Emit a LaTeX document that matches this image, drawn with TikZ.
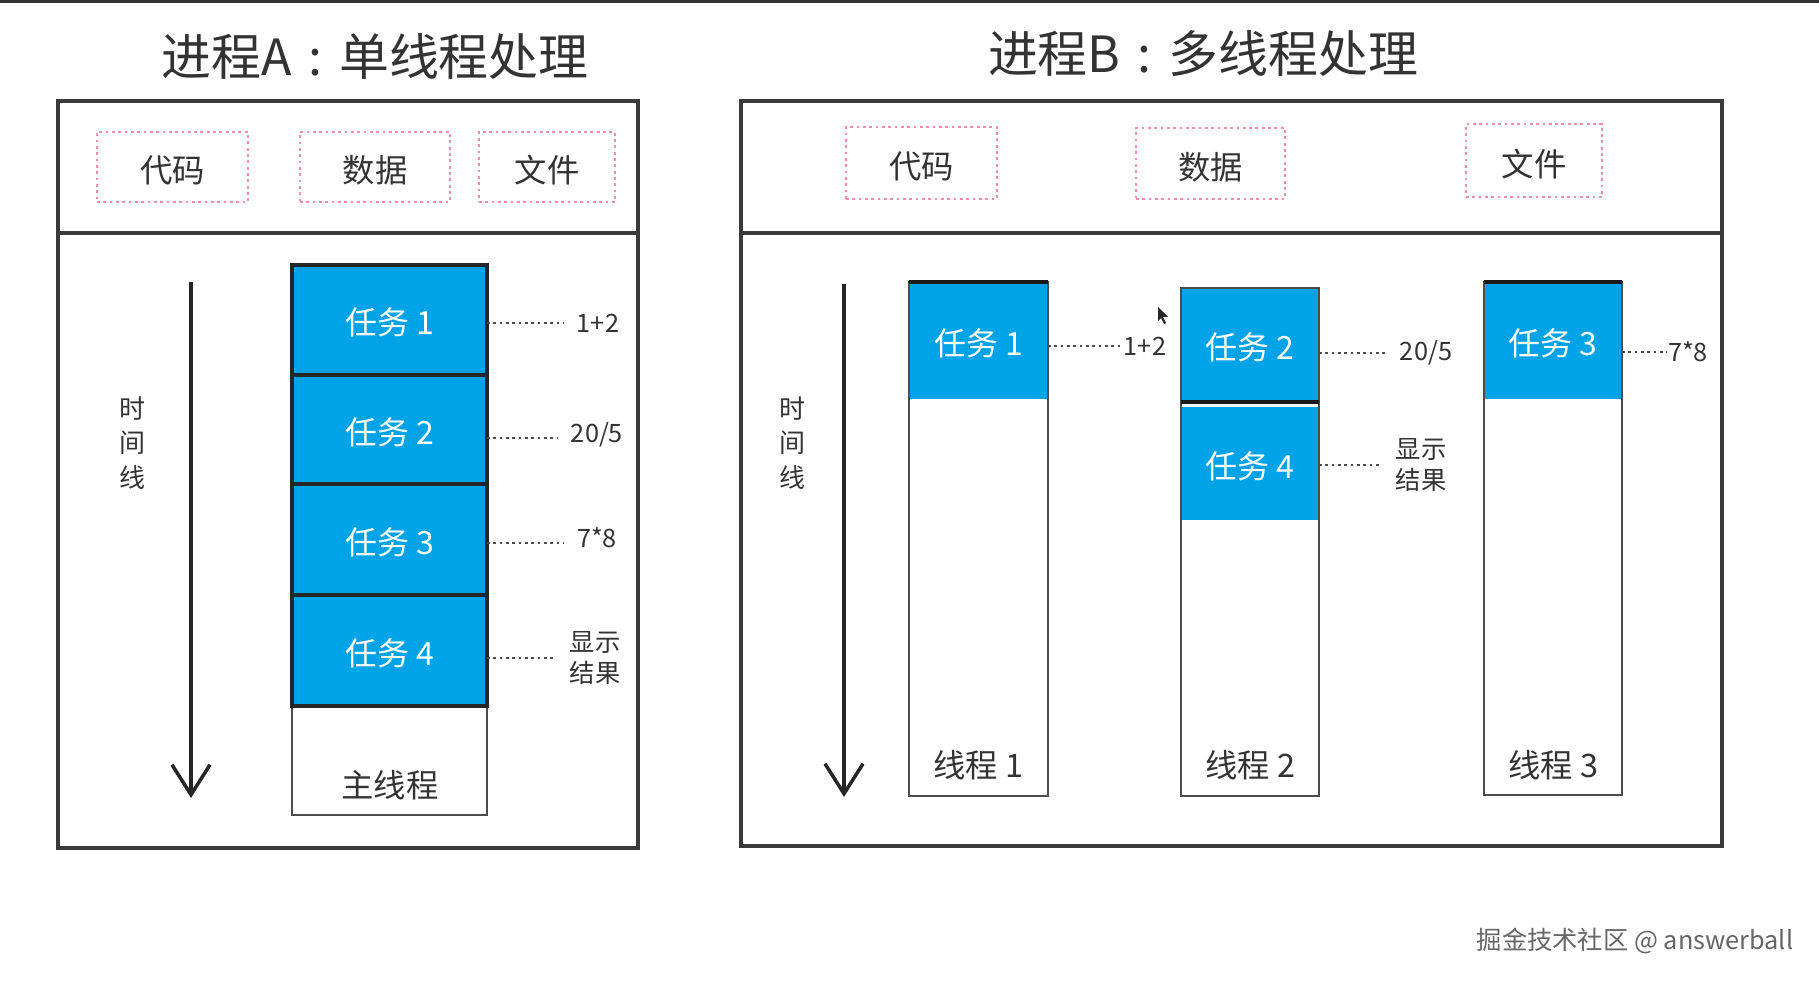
\documentclass[tikz,border=0pt]{standalone}
\usepackage{fontspec}
\setmainfont{Noto Sans CJK SC}
\usepackage{tikz}
\usetikzlibrary{arrows.meta}
\definecolor{taskblue}{HTML}{00A2E8}
\definecolor{linegray}{HTML}{3A3A3A}
\definecolor{boxpink}{HTML}{F28FA8}
\tikzset{
	panel/.style={draw=linegray,line width=1.1pt,inner sep=0pt,outer sep=0pt},
	res/.style={draw=boxpink,line width=0.8pt,densely dotted,inner sep=0pt,outer sep=0pt,text=black!80,text height=10pt,text depth=1pt,font=\fontsize{9.2}{11}\selectfont},
	task/.style={draw=black!85,line width=0.95pt,fill=taskblue,text=white,inner sep=0pt,outer sep=0pt,text height=9.5pt,text depth=1pt,font=\fontsize{9.1}{11}\selectfont},
	flat/.style={task,draw=none},
	thread/.style={draw=black!70,line width=0.8pt,inner sep=0pt,outer sep=0pt},
	threadname/.style={inner sep=0pt,text=black!80,font=\fontsize{9.2}{11}\selectfont},
	note/.style={inner sep=0pt,align=center,text=black!80,font=\fontsize{7.2}{8.8}\selectfont},
	dotline/.style={densely dotted,line width=0.8pt,black!70},
	gapline/.style={dotline,shorten >=3.7pt},
	topline/.style={black!90,line width=1.2pt},
	timeline/.style={draw=black!85,line width=1pt,-{Straight Barb[length=0.3cm,width=0.38cm]}},
	title/.style={inner sep=0pt,text=black!80,font=\fontsize{14.2}{17}\selectfont}
}
\begin{document}
\begin{tikzpicture}
	\useasboundingbox (0,0) rectangle (18.19,9.81);
	\fill[white] (0,0) rectangle (18.19,9.81);
	\fill[black!80] (0,9.78) rectangle (18.19,9.81);

	% process A
	\node[title] (titleA) at (3.75,9.24) {进程A\hspace{0.34em}:\hspace{0.34em}单线程处理};
	\node[panel,minimum width=5.8cm,minimum height=1.32cm] (headA) at (3.48,8.14) {};
	\node[panel,minimum width=5.8cm,minimum height=6.15cm] (bodyA) at (3.48,4.405) {};
	\node[res,minimum width=1.51cm,minimum height=0.7cm] (codeA) at (1.725,8.14) {代码};
	\node[res,minimum width=1.5cm,minimum height=0.7cm] (dataA) at (3.75,8.14) {数据};
	\node[res,minimum width=1.36cm,minimum height=0.7cm] (fileA) at (5.47,8.14) {文件};

	\coordinate (startA) at (1.91,6.99);
	\coordinate (endA) at (1.91,1.83);
	\draw[timeline] (startA) -- (endA);
	\node[note,font=\fontsize{7.4}{9.9}\selectfont] (timeA) at (1.33,5.38) {时\\间\\线};

	\node[thread,minimum width=1.95cm,minimum height=1.09cm] (mainbox) at (3.895,2.205) {};
	\node[task,minimum width=1.95cm,minimum height=1.1cm] (a1) at (3.895,6.61) {任务 1};
	\node[task,minimum width=1.95cm,minimum height=1.09cm] (a2) at (3.895,5.515) {任务 2};
	\node[task,minimum width=1.95cm,minimum height=1.11cm] (a3) at (3.895,4.415) {任务 3};
	\node[task,minimum width=1.95cm,minimum height=1.11cm] (a4) at (3.895,3.305) {任务 4};
	\node[threadname] (mainname) at (3.9,1.96) {主线程};

	\node[note] (noteA1) at (5.98,6.58) {1+2};
	\node[note] (noteA2) at (5.97,5.46) {20/5};
	\node[note] (noteA3) at (5.97,4.43) {7*8};
	\node[note] (noteA4) at (5.95,3.23) {显示\\结果};
	\draw[gapline] (a1.east |- noteA1) -- (noteA1.west);
	\draw[gapline] ([yshift=-0.03cm]a2.east |- noteA2) -- ([yshift=-0.03cm]noteA2.west);
	\draw[gapline] ([yshift=-0.05cm]a3.east |- noteA3) -- ([yshift=-0.05cm]noteA3.west);
	\draw[gapline] (a4.east |- noteA4) -- (noteA4.west);

	% process B
	\node[title] (titleB) at (12.03,9.27) {进程B\hspace{0.34em}:\hspace{0.34em}多线程处理};
	\node[panel,minimum width=9.81cm,minimum height=1.32cm] (headB) at (12.315,8.14) {};
	\node[panel,minimum width=9.81cm,minimum height=6.13cm] (bodyB) at (12.315,4.415) {};
	\node[res,minimum width=1.51cm,minimum height=0.72cm] (codeB) at (9.215,8.18) {代码};
	\node[res,minimum width=1.49cm,minimum height=0.71cm] (dataB) at (12.105,8.175) {数据};
	\node[res,minimum width=1.36cm,minimum height=0.73cm] (fileB) at (15.34,8.205) {文件};

	\coordinate (startB) at (8.44,6.97);
	\coordinate (endB) at (8.44,1.84);
	\draw[timeline] (startB) -- (endB);
	\node[note,font=\fontsize{7.4}{9.9}\selectfont] (timeB) at (7.92,5.38) {时\\间\\线};

	\node[flat,minimum width=1.39cm,minimum height=1.17cm] (b1) at (9.785,6.405) {任务 1};
	\node[flat,minimum width=1.38cm,minimum height=1.14cm] (b2) at (12.5,6.36) {任务 2};
	\node[flat,minimum width=1.38cm,minimum height=1.13cm] (b4) at (12.5,5.175) {任务 4};
	\node[flat,minimum width=1.38cm,minimum height=1.17cm] (b3) at (15.53,6.405) {任务 3};

	\node[thread,minimum width=1.39cm,minimum height=5.14cm] (thr1) at (9.785,4.42) {};
	\node[thread,minimum width=1.38cm,minimum height=5.08cm] (thr2) at (12.5,4.39) {};
	\node[thread,minimum width=1.38cm,minimum height=5.13cm] (thr3) at (15.53,4.425) {};
	\node[threadname] (name1) at (9.785,2.16) {线程 1};
	\node[threadname] (name2) at (12.5,2.16) {线程 2};
	\node[threadname] (name3) at (15.53,2.16) {线程 3};
	\draw[topline] (thr1.north west) -- (thr1.north east);
	\draw[topline] (thr3.north west) -- (thr3.north east);
	\draw[topline] (b2.south west) -- (b2.south east);

	\node[note] (noteB1) at (11.45,6.35) {1+2};
	\node[note] (noteB2) at (14.26,6.28) {20/5};
	\node[note] (noteB3) at (16.88,6.29) {7*8};
	\node[note] (noteB4) at (14.21,5.16) {显示\\结果};
	\draw[dotline] (b1.east |- noteB1) -- (noteB1.west);
	\draw[gapline] (b2.east |- noteB2) -- (noteB2.west);
	\draw[dotline] (b3.east |- noteB3) -- (noteB3.west);
	\draw[gapline] (b4.east |- noteB4) -- (noteB4.west);

	% mouse pointer
	\fill[black!85] (11.58,6.74) -- (11.58,6.60) -- (11.61,6.63) -- (11.64,6.57) -- (11.66,6.58) -- (11.63,6.64) -- (11.68,6.64) -- cycle;

	\node[inner sep=0pt,text=black!60,font=\fontsize{7.2}{9}\selectfont] (mark) at (16.35,0.40) {掘金技术社区 @ answerball};
\end{tikzpicture}
\end{document}
